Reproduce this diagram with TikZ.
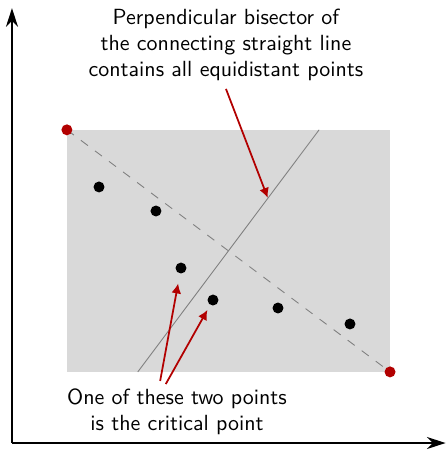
\documentclass[tikz,border=0pt]{standalone}
\usepackage{tikz}
\usetikzlibrary{arrows.meta,positioning,calc}
\definecolor{critred}{RGB}{178,0,0}
\definecolor{regiongray}{RGB}{217,217,217}
\tikzset{
    dot/.style={circle, fill=black, inner sep=0pt, minimum size=5pt},
    reddot/.style={circle, fill=critred, inner sep=0pt, minimum size=5pt},
    pointer/.style={critred, thick, -{Latex[length=4.5pt,width=4.5pt]}},
    axis/.style={semithick, -{Stealth[length=8.5pt,width=5.5pt]}},
}

\begin{document}
\begin{tikzpicture}[font=\sffamily]
    \useasboundingbox (-0.192,-0.128) rectangle (6.957,7.101);

    % --- Axes ---
    \coordinate (origin) at (0,0);
    \coordinate (xend) at (6.95,0);
    \coordinate (yend) at (0,6.97);
    \draw[axis] (origin) -- (xend);
    \draw[axis] (origin) -- (yend);

    % --- Region and end points ---
    \fill[regiongray] (0.88,1.14) rectangle (6.06,5.02);
    \coordinate (A) at (0.88,5.02);
    \coordinate (B) at (6.06,1.14);
    \draw[gray, dash pattern=on 4pt off 4pt] (A) -- (B);

    % --- Bisector ---
    \coordinate (bislow) at (2.017,1.14);
    \coordinate (bishigh) at (4.923,5.02);
    \coordinate (bismark) at (4.10,3.93);
    \draw[gray] (bislow) -- (bishigh);

    \node[reddot] (endA) at (A) {};
    \node[reddot] (endB) at (B) {};

    % --- Sample points ---
    \node[dot] (p1) at (1.395,4.104) {};
    \node[dot] (p2) at (2.308,3.719) {};
    \node[dot] (p3) at (2.709,2.805) {};
    \node[dot] (p4) at (3.222,2.292) {};
    \node[dot] (p5) at (4.264,2.164) {};
    \node[dot] (p6) at (5.418,1.908) {};

    % --- Labels ---
    \node[align=center] (toplabel) at (3.43,6.38)
        {Perpendicular bisector of\\the connecting straight line\\contains all equidistant points};
    \node[align=center] (botlabel) at (2.645,0.50)
        {One of these two points\\is the critical point};

    \draw[pointer] (toplabel.south) -- (bismark);
    \draw[pointer, shorten >=4.5pt] ([xshift=-0.27cm]botlabel.north) -- (p3);
    \draw[pointer, shorten >=2.5pt] ([xshift=-0.18cm,yshift=-0.05cm]botlabel.north) -- (p4);
\end{tikzpicture}
\end{document}
